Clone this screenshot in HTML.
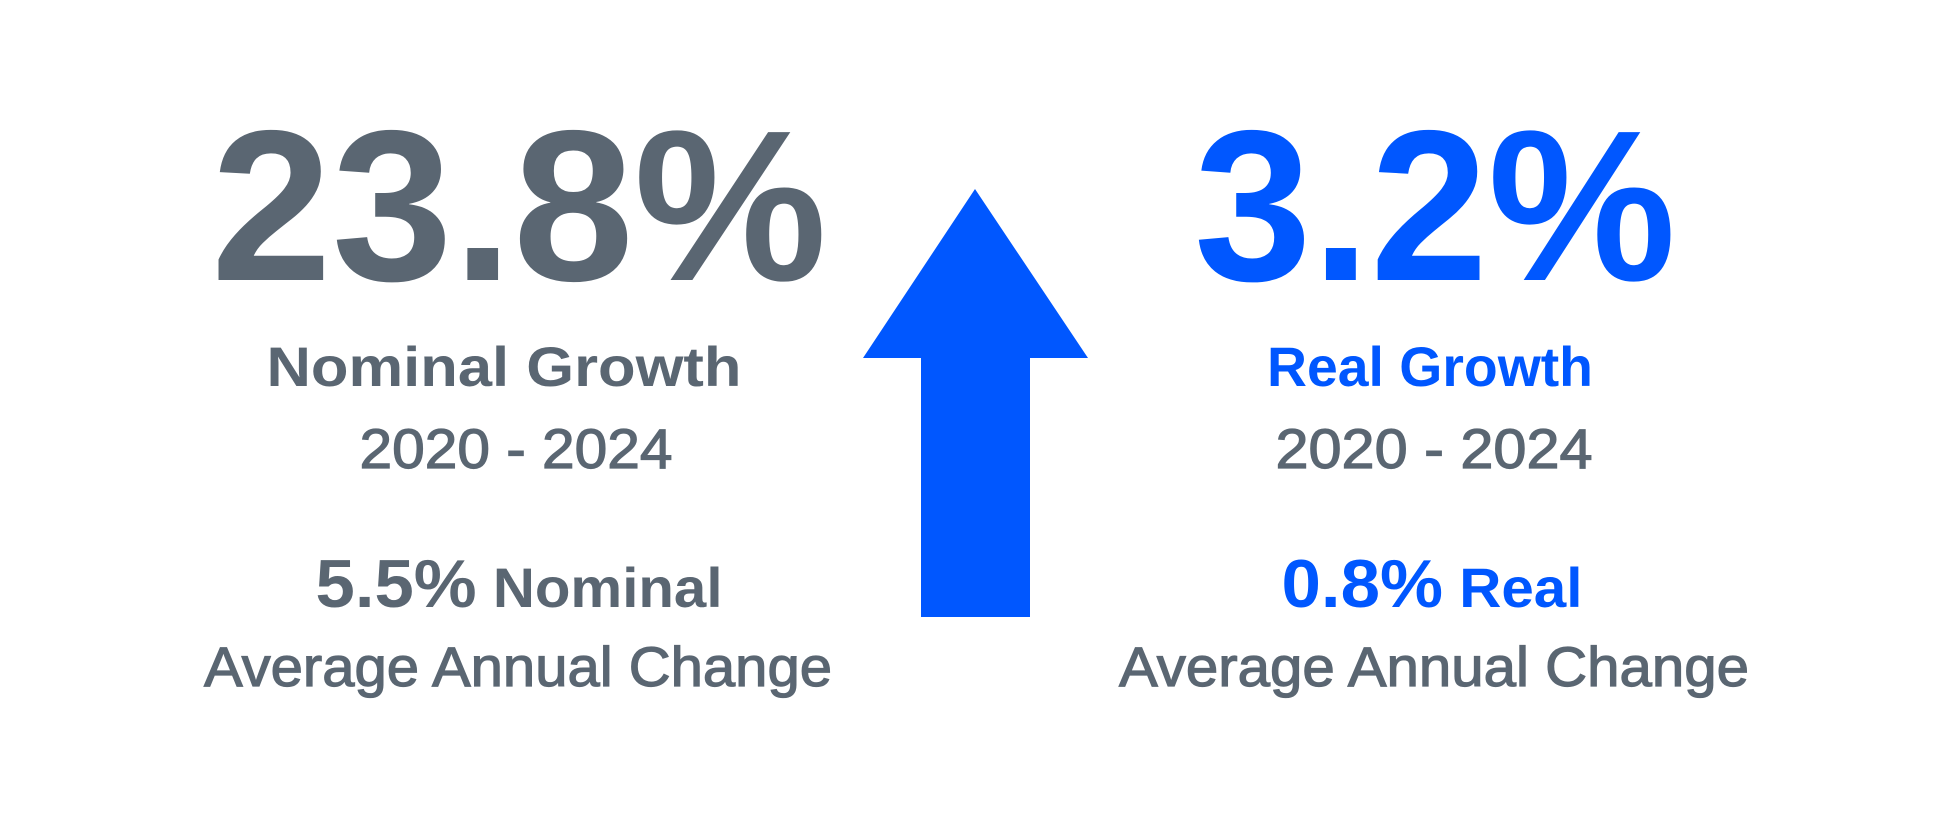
<!DOCTYPE html>
<html><head><meta charset="utf-8"><style>
html,body{margin:0;padding:0;background:#fff;}
svg{display:block;}
text{font-family:"Liberation Sans",sans-serif;}
</style></head><body>
<svg width="1950" height="830" viewBox="0 0 1950 830" xmlns="http://www.w3.org/2000/svg">
<rect width="1950" height="830" fill="#fff"/>
<g fill="#5a6672">
<text x="519" y="280" font-size="215" font-weight="bold" text-anchor="middle" textLength="616" lengthAdjust="spacingAndGlyphs">23.8%</text>
<text x="504" y="386" font-size="56" font-weight="bold" text-anchor="middle" textLength="475" lengthAdjust="spacingAndGlyphs">Nominal Growth</text>
<text x="516" y="468" font-size="56" text-anchor="middle" textLength="313" lengthAdjust="spacingAndGlyphs" stroke="#5a6672" stroke-width="1.2">2020 - 2024</text>
<text x="519" y="607" font-weight="bold" text-anchor="middle" textLength="407" lengthAdjust="spacingAndGlyphs"><tspan font-size="68">5.5%</tspan><tspan font-size="56"> Nominal</tspan></text>
<text x="518" y="686" font-size="56" text-anchor="middle" textLength="628" lengthAdjust="spacingAndGlyphs" stroke="#5a6672" stroke-width="1.2">Average Annual Change</text>
</g>
<g fill="#0057ff">
<text x="1435" y="280" font-size="215" font-weight="bold" text-anchor="middle" textLength="482" lengthAdjust="spacingAndGlyphs">3.2%</text>
<text x="1430" y="386" font-size="56" font-weight="bold" text-anchor="middle" textLength="326" lengthAdjust="spacingAndGlyphs">Real Growth</text>
<text x="1432" y="607" font-weight="bold" text-anchor="middle" textLength="301" lengthAdjust="spacingAndGlyphs"><tspan font-size="68">0.8%</tspan><tspan font-size="56"> Real</tspan></text>
<polygon points="975,189 1088,358 1030,358 1030,617 921,617 921,358 863,358"/>
</g>
<g fill="#5a6672" stroke="#5a6672" stroke-width="1.2">
<text x="1434" y="468" font-size="56" text-anchor="middle" textLength="317" lengthAdjust="spacingAndGlyphs">2020 - 2024</text>
<text x="1434" y="686" font-size="56" text-anchor="middle" textLength="630" lengthAdjust="spacingAndGlyphs">Average Annual Change</text>
</g>
</svg>
</body></html>
